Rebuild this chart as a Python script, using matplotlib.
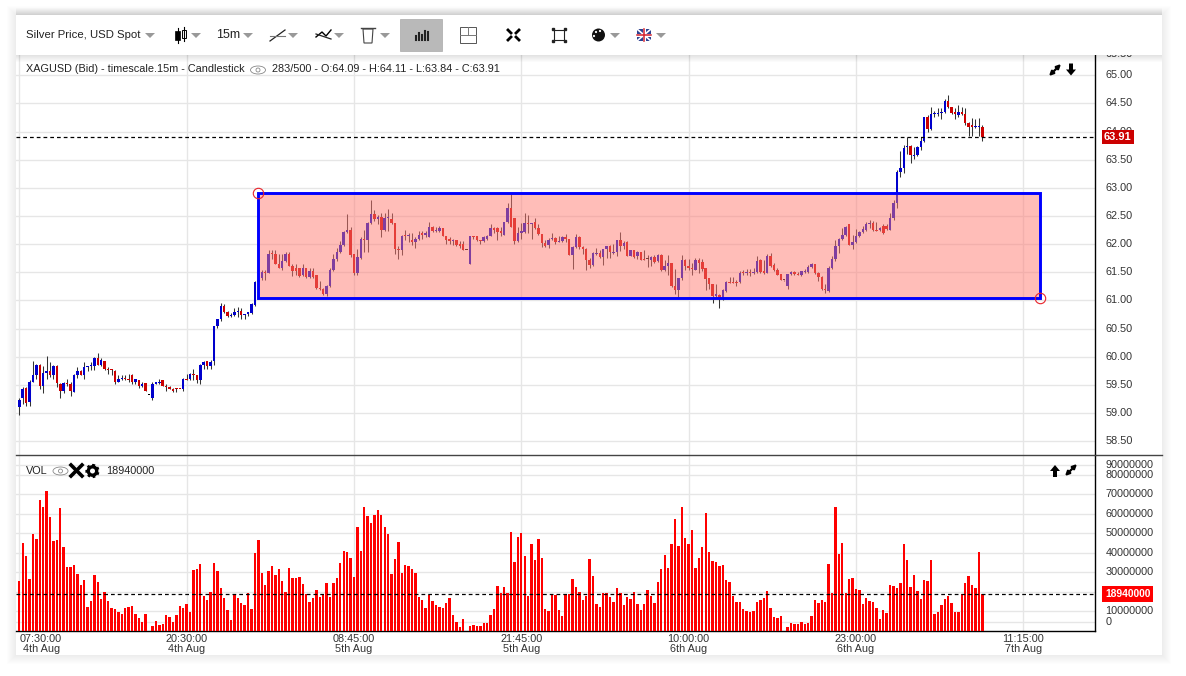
import numpy as np
import matplotlib
matplotlib.use('Agg')
import matplotlib.pyplot as plt
from matplotlib.patches import Rectangle, Ellipse, Circle, Polygon
from matplotlib.transforms import ScaledTranslation

plt.rcParams['font.family'] = ['Liberation Sans', 'DejaVu Sans']

# candles (15m bars)
opens = [
    59.10,59.26,59.45,59.20,59.56,59.67,59.86,59.49,59.72,59.74,
    59.68,59.83,59.52,59.40,59.52,59.52,59.38,59.67,59.74,59.68,
    59.81,59.83,59.84,59.97,59.86,59.93,59.79,59.77,59.74,59.56,
    59.60,59.61,59.61,59.68,59.56,59.58,59.49,59.54,59.33,59.27,
    59.52,59.54,59.58,59.49,59.47,59.43,59.43,59.43,59.42,59.60,
    59.60,59.68,59.68,59.58,59.86,59.92,59.84,59.92,60.54,60.67,
    60.90,60.79,60.72,60.74,60.79,60.81,60.74,60.76,60.77,60.92,
    61.32,61.40,61.51,61.49,61.83,61.82,61.65,61.58,61.71,61.83,
    61.62,61.57,61.57,61.46,61.58,61.42,61.53,61.46,61.23,61.21,
    61.12,61.26,61.55,61.73,61.87,61.98,62.21,62.26,61.83,61.48,
    61.76,62.10,62.07,62.37,62.53,62.44,62.49,62.26,62.46,62.44,
    62.37,61.92,61.89,62.17,62.15,62.08,62.03,62.10,62.19,62.17,
    62.12,62.31,62.23,62.23,62.28,62.14,62.10,62.05,62.08,62.01,
    62.01,61.90,61.64,62.14,62.14,62.07,62.05,62.10,62.15,62.28,
    62.28,62.23,62.17,62.39,62.65,62.46,62.05,62.19,62.22,62.38,
    62.36,62.40,62.29,62.18,62.02,61.99,62.10,62.11,62.04,62.06,
    62.13,62.10,61.81,61.95,62.13,61.95,61.92,61.72,61.63,61.83,
    61.85,61.77,61.92,61.97,61.85,61.86,62.08,61.97,62.04,61.79,
    61.90,61.79,61.86,61.74,61.74,61.72,61.77,61.70,61.81,61.54,
    61.61,61.67,61.26,61.18,61.40,61.72,61.61,61.58,61.54,61.72,
    61.68,61.58,61.40,61.29,61.08,61.10,61.02,61.17,61.33,61.33,
    61.33,61.33,61.49,61.49,61.51,61.49,61.51,61.72,61.52,61.49,
    61.79,61.63,61.54,61.47,61.36,61.26,61.47,61.51,61.47,61.45,
    61.51,61.51,61.60,61.65,61.49,61.42,61.20,61.17,61.58,61.74,
    61.97,62.10,62.17,62.35,61.99,62.04,62.15,62.22,62.26,62.36,
    62.38,62.26,62.26,62.33,62.33,62.26,62.47,62.74,63.29,63.35,
    63.72,63.74,63.56,63.58,63.72,63.84,64.26,64.04,64.31,64.32,
    64.33,64.34,64.54,64.43,64.34,64.29,64.34,64.31,64.15,64.11,
    64.08,64.08,64.09]
closes = [
    59.24,59.43,59.18,59.56,59.67,59.86,59.49,59.72,59.74,59.67,
    59.83,59.54,59.40,59.54,59.51,59.40,59.67,59.74,59.68,59.81,
    59.84,59.84,59.97,59.86,59.95,59.79,59.76,59.76,59.56,59.61,
    59.61,59.60,59.58,59.56,59.60,59.49,59.52,59.40,59.33,59.52,
    59.56,59.56,59.49,59.47,59.43,59.40,59.42,59.42,59.60,59.58,
    59.70,59.67,59.58,59.86,59.90,59.84,59.90,60.54,60.68,60.90,
    60.79,60.72,60.74,60.79,60.81,60.74,60.76,60.79,60.93,61.32,
    61.37,61.51,61.49,61.83,61.82,61.65,61.58,61.71,61.83,61.62,
    61.53,61.53,61.44,61.58,61.42,61.53,61.42,61.23,61.21,61.12,
    61.26,61.55,61.73,61.87,61.98,62.21,62.26,61.80,61.48,61.78,
    62.10,62.07,62.37,62.53,62.44,62.49,62.26,62.46,62.48,62.37,
    61.92,61.89,62.15,62.15,62.17,62.03,62.10,62.17,62.17,62.19,
    62.31,62.23,62.26,62.28,62.14,62.08,62.05,62.06,61.98,61.96,
    61.90,61.90,62.14,62.12,62.07,62.05,62.12,62.15,62.28,62.26,
    62.21,62.19,62.40,62.65,62.31,62.05,62.19,62.23,62.38,62.36,
    62.38,62.29,62.18,62.02,61.97,62.08,62.11,62.04,62.06,62.13,
    62.10,61.81,61.95,62.13,61.95,61.92,61.72,61.63,61.85,61.85,
    61.77,61.92,61.97,61.86,61.86,62.08,61.97,62.02,61.79,61.90,
    61.77,61.86,61.72,61.72,61.74,61.77,61.68,61.81,61.54,61.61,
    61.67,61.26,61.18,61.40,61.72,61.61,61.58,61.56,61.72,61.67,
    61.56,61.38,61.29,61.08,61.11,61.04,61.18,61.33,61.31,61.31,
    61.31,61.49,61.48,61.51,61.49,61.51,61.70,61.51,61.49,61.79,
    61.61,61.54,61.45,61.36,61.36,61.47,61.51,61.47,61.46,61.52,
    61.52,61.60,61.65,61.49,61.42,61.20,61.18,61.58,61.74,61.97,
    62.10,62.17,62.31,61.99,62.04,62.15,62.22,62.27,62.36,62.38,
    62.26,62.24,62.29,62.20,62.27,62.47,62.74,63.29,63.35,63.70,
    63.74,63.58,63.58,63.72,63.84,64.26,64.04,64.31,64.33,64.33,
    64.34,64.54,64.43,64.33,64.31,64.34,64.31,64.15,64.09,64.08,
    64.09,64.09,63.91]
highs = [
    59.27,59.47,59.47,59.58,59.93,59.88,59.88,59.83,60.01,59.90,
    59.86,59.86,59.54,59.56,59.61,59.56,59.70,59.81,59.77,59.90,
    59.84,59.90,59.99,60.06,59.97,59.93,59.81,59.79,59.76,59.68,
    59.68,59.68,59.70,59.70,59.61,59.58,59.56,59.54,59.33,59.56,
    59.56,59.60,59.58,59.51,59.49,59.45,59.45,59.43,59.63,59.70,
    59.72,59.79,59.68,59.88,59.92,59.92,59.95,60.54,60.68,60.95,
    60.93,60.81,60.77,60.86,60.88,60.86,60.76,60.79,60.95,61.34,
    61.40,61.55,61.54,61.89,61.89,61.90,61.83,61.83,61.87,61.87,
    61.64,61.65,61.58,61.64,61.58,61.58,61.58,61.46,61.35,61.23,
    61.28,61.57,61.82,61.94,62.05,62.24,62.53,62.31,61.83,61.92,
    62.12,62.26,62.39,62.78,62.60,62.51,62.55,62.55,62.62,62.55,
    62.37,61.96,62.17,62.26,62.19,62.19,62.12,62.24,62.24,62.24,
    62.40,62.33,62.31,62.33,62.28,62.15,62.12,62.10,62.08,62.06,
    62.05,61.90,62.14,62.15,62.15,62.07,62.14,62.17,62.35,62.30,
    62.30,62.31,62.40,62.74,62.90,62.46,62.31,62.37,62.56,62.52,
    62.38,62.47,62.36,62.18,62.08,62.11,62.20,62.13,62.15,62.15,
    62.18,62.10,61.97,62.18,62.15,61.97,61.93,61.76,61.86,61.93,
    61.90,61.92,61.97,61.99,62.01,62.08,62.22,62.06,62.06,61.90,
    61.90,61.88,61.86,61.90,61.81,61.79,61.81,61.83,61.83,61.72,
    61.81,61.67,61.56,61.40,61.81,61.74,61.74,61.67,61.76,61.76,
    61.74,61.58,61.40,61.29,61.29,61.11,61.20,61.35,61.42,61.42,
    61.36,61.52,61.54,61.56,61.56,61.58,61.79,61.74,61.72,61.83,
    61.85,61.67,61.58,61.47,61.36,61.47,61.52,61.52,61.51,61.52,
    61.56,61.63,61.67,61.65,61.51,61.43,61.29,61.61,61.79,62.08,
    62.11,62.29,62.33,62.35,62.17,62.27,62.24,62.33,62.40,62.43,
    62.42,62.40,62.31,62.36,62.35,62.56,62.79,63.31,63.65,63.77,
    63.90,63.76,63.72,63.74,63.90,64.26,64.29,64.43,64.36,64.42,
    64.42,64.58,64.65,64.43,64.42,64.47,64.43,64.42,64.17,64.24,
    64.22,64.24,64.11]
lows = [
    58.97,59.17,59.13,59.13,59.56,59.60,59.42,59.35,59.61,59.65,
    59.60,59.47,59.27,59.36,59.49,59.31,59.38,59.63,59.67,59.61,
    59.74,59.77,59.77,59.86,59.84,59.77,59.70,59.68,59.52,59.56,
    59.58,59.58,59.56,59.52,59.52,59.45,59.47,59.40,59.33,59.24,
    59.51,59.51,59.49,59.40,59.42,59.38,59.38,59.42,59.40,59.58,
    59.58,59.58,59.54,59.52,59.79,59.79,59.79,59.85,60.51,60.63,
    60.77,60.70,60.70,60.72,60.70,60.68,60.67,60.72,60.76,60.90,
    61.30,61.36,61.37,61.48,61.73,61.64,61.57,61.55,61.69,61.62,
    61.44,61.46,61.42,61.44,61.40,61.40,61.40,61.21,61.19,61.10,
    61.08,61.24,61.53,61.71,61.85,61.96,62.19,61.78,61.46,61.46,
    61.73,61.87,61.87,62.35,62.42,62.35,62.12,62.24,62.24,62.35,
    61.82,61.73,61.80,62.08,62.03,61.99,61.94,62.08,62.10,62.12,
    62.12,62.21,62.21,62.21,62.14,62.01,62.01,61.99,61.96,61.94,
    61.89,61.89,61.64,62.10,62.05,62.01,62.03,62.08,62.14,62.19,
    62.07,62.15,62.17,62.37,62.31,62.01,62.03,62.10,62.19,62.20,
    62.10,62.27,62.17,61.95,61.95,61.93,62.08,62.01,62.04,62.04,
    62.04,61.81,61.56,61.93,61.92,61.83,61.54,61.58,61.61,61.81,
    61.76,61.63,61.76,61.76,61.83,61.79,61.88,61.92,61.79,61.79,
    61.76,61.74,61.72,61.72,61.60,61.61,61.67,61.68,61.52,61.52,
    61.45,61.24,61.11,61.04,61.36,61.54,61.54,61.45,61.54,61.49,
    61.52,61.18,61.20,60.95,61.04,60.86,61.01,61.15,61.31,61.31,
    61.26,61.31,61.45,61.45,61.43,61.47,61.49,61.49,61.47,61.49,
    61.60,61.52,61.45,61.36,61.35,61.20,61.45,61.45,61.45,61.43,
    61.49,61.49,61.58,61.47,61.35,61.18,61.13,61.15,61.56,61.70,
    61.85,62.08,62.15,61.99,61.92,62.02,62.13,62.20,62.24,62.29,
    62.24,62.24,62.24,62.18,62.26,62.26,62.43,62.65,63.20,63.27,
    63.61,63.45,63.52,63.56,63.67,63.81,63.99,64.02,64.26,64.27,
    64.22,64.33,64.42,64.31,64.22,64.26,64.29,64.11,63.92,63.92,
    64.06,63.92,63.84]

# volume in millions
volume = [
    25.6,45.0,38.4,26.6,49.6,47.1,67.0,63.4,71.6,58.3,
    46.0,46.5,62.9,43.0,32.7,32.7,33.8,29.2,23.5,26.1,
    12.3,15.3,28.6,25.1,16.4,19.9,15.3,11.8,11.3,9.7,
    8.7,11.8,12.3,12.8,8.7,6.6,4.6,8.7,0,2.6,
    5.1,3.1,3.6,8.2,7.2,4.6,8.2,12.8,11.8,13.8,
    9.7,31.2,31.7,34.3,17.9,15.9,19.9,34.8,30.7,22.0,
    16.9,10.7,5.6,18.8,16.9,14.3,13.3,19.4,11.3,39.9,
    46.5,29.7,23.5,30.7,33.2,28.6,31.7,25.6,19.9,32.2,
    27.1,27.1,27.6,24.0,18.8,14.8,16.9,21.0,17.4,18.8,
    24.6,17.4,24.6,27.1,34.8,40.9,40.4,37.3,27.6,53.2,
    40.9,63.4,58.8,55.2,59.3,61.9,59.3,53.2,49.6,29.2,
    36.8,45.5,
    29.7,33.8,33.2,31.7,29.7,17.4,15.9,11.8,18.4,15.3,
    13.3,12.3,11.8,14.3,16.9,8.2,4.6,2.0,6.1,0,
    2.6,3.1,2.6,2.6,4.1,4.1,8.2,11.3,23.0,19.4,
    22.5,19.4,50.6,35.3,48.1,50.1,38.4,17.9,44.5,36.3,
    47.1,37.3,11.3,10.2,18.4,18.4,10.7,7.7,18.9,18.9,
    26.6,22.5,19.9,15.9,17.9,36.8,28.1,13.8,12.3,19.4,
    19.4,17.4,14.8,22.0,19.4,13.3,17.4,16.4,19.9,13.8,
    10.7,13.8,21.0,17.9,14.3,25.1,31.7,38.9,32.2,44.5,
    57.3,43.5,63.4,47.6,44.5,51.7,32.2,37.3,43.0,60.4,
    40.4,35.8,35.3,33.2,33.8,26.1,25.1,17.9,14.8,14.8,
    11.3,10.2,9.7,10.2,14.8,15.9,16.9,20.5,11.8,7.2,
    6.6,7.7,0,2.0,4.1,3.6,3.6,
    4.6,3.6,4.1,7.7,15.9,14.3,15.9,14.8,34.3,19.4,
    63.4,39.4,45.0,19.4,26.6,27.1,21.5,21.0,13.8,16.9,
    15.3,14.8,11.8,6.1,10.7,9.2,23.5,23.0,22.0,24.6,
    44.5,36.3,22.5,28.6,20.5,16.4,26.1,25.6,36.3,8.7,
    9.7,13.3,16.4,17.9,14.3,9.7,9.7,18.9,24.6,28.1,
    23.5,22.0,40.4,18.94]

price_ticks = [58.5,59.0,59.5,60.0,60.5,61.0,61.5,62.0,62.5,63.0,63.5,64.0,64.5,65.0]
vol_ticks = [10,20,30,40,50,60,70,80]
time_ticks = [0,49,98,147,196,245,294]
time_labels = ['07:30:00','20:30:00','08:45:00','21:45:00','10:00:00','23:00:00','11:15:00']
date_labels = ['4th Aug','4th Aug','5th Aug','5th Aug','6th Aug','6th Aug','7th Aug']
last_close = 63.91
last_volume = 18.94
zone_bars = (70, 299)
zone_prices = (61.04, 62.91)

W, H = 1186, 676
GRID = '#e6e6e6'
TEXT = '#333333'


def px_axes(left, top, right, bottom):
    return fig.add_axes([left / W, (H - bottom) / H, (right - left) / W, (bottom - top) / H])


fig = plt.figure(figsize=(W / 100, H / 100), dpi=100, facecolor='white')
label_up = ScaledTranslation(0, 1 / 100, fig.dpi_scale_trans)

# page card + soft shadow
bg = fig.add_axes([0, 0, 1, 1], zorder=0)
bg.set_xlim(0, W)
bg.set_ylim(H, 0)
bg.axis('off')
for k in range(9, 0, -1):
    bg.add_patch(Rectangle((16 - k, 15 - k), 1146 + 2 * k, 640 + 2 * k, fc='k', ec='none', alpha=0.009))
bg.add_patch(Rectangle((16, 15), 1146, 640, fc='white', ec='none'))

# price panel
ax = px_axes(16, 55, 1095, 455)
ax.set_zorder(1)
ax.patch.set_visible(False)
ax.set_xlim(-0.966, 315)
ax.set_ylim(58.256, 65.36)
xs = np.arange(len(opens))
o = np.array(opens)
c = np.array(closes)
colors = ['#000000' if a == b else ('#0000cc' if b > a else '#cc0000') for a, b in zip(o, c)]
ax.vlines(xs, lows, highs, color='#333333', lw=0.75, zorder=3)
ax.bar(xs, np.maximum(np.abs(c - o), 0.018), bottom=np.minimum(o, c), width=0.72, color=colors, zorder=3)

# drawn rectangle on top of the candles
zw = zone_bars[1] - zone_bars[0]
zh = zone_prices[1] - zone_prices[0]
ax.add_patch(Rectangle((zone_bars[0], zone_prices[0]), zw, zh, fc='#ff7c73', ec='none', alpha=0.5, zorder=4))
ax.add_patch(Rectangle((zone_bars[0], zone_prices[0]), zw, zh, fc='none', ec='#0000ff', lw=2.1, zorder=5))
ax.plot([zone_bars[0], zone_bars[1]], [zone_prices[1], zone_prices[0]], ls='none', marker='o', ms=7.5,
        mfc='none', mec='#e8222a', mew=0.8, zorder=6, clip_on=False)

ax.axhline(last_close, color='k', lw=0.9, ls=(0, (3, 2.4)), zorder=6)
ax.set_xticks(time_ticks)
ax.set_yticks(price_ticks)
ax.set_yticklabels([f'{p:.2f}' for p in price_ticks])
ax.yaxis.tick_right()
ax.tick_params(axis='y', length=0, pad=7.5, labelsize=7.8, labelcolor=TEXT)
ax.tick_params(axis='x', length=0, labelbottom=False)
ax.grid(True, color=GRID, lw=1.0)
ax.set_axisbelow(True)
for lab in ax.get_yticklabels():
    lab.set_transform(lab.get_transform() + label_up)
for side in ['top', 'left', 'bottom']:
    ax.spines[side].set_visible(False)
ax.spines['right'].set_linewidth(1.0)
ax.text(1.0097, 65.38, '65.50', transform=ax.get_yaxis_transform(), fontsize=7.8, color=TEXT, va='center',
        ha='left', clip_on=False)
ax.text(1.0084, last_close, f'{last_close:.2f}', transform=ax.get_yaxis_transform(), fontsize=8, color='white',
        fontweight='bold', va='center', ha='left', zorder=10, clip_on=False,
        bbox=dict(boxstyle='square,pad=0.18', fc='#cc0000', ec='none'))

# volume panel
av = px_axes(16, 455, 1095, 631)
av.set_zorder(1)
av.patch.set_visible(False)
av.set_xlim(-0.966, 315)
av.set_ylim(0, 90)
av.bar(xs, volume, width=0.7, color='#ff0000', zorder=3)
av.axhline(last_volume, color='k', lw=0.9, ls=(0, (3, 2.4)), zorder=6)
# the outermost labels of this axis sit pushed inward from 0 and 90M,
# the 20M label is covered by the red box so it gets no text
av.set_yticks([4.6] + vol_ticks + [84.9])
av.set_yticklabels(['0'] + ['' if v == 20 else f'{v * 1000000}' for v in vol_ticks] + ['90000000'])
av.yaxis.tick_right()
av.tick_params(axis='y', length=0, pad=7.5, labelsize=7.8, labelcolor=TEXT)
av.set_xticks(time_ticks)
av.tick_params(axis='x', length=0, labelbottom=False)
av.grid(True, color=GRID, lw=1.0)
av.set_axisbelow(True)
for lab in av.get_yticklabels():
    lab.set_transform(lab.get_transform() + label_up)
for side in ['top', 'left']:
    av.spines[side].set_visible(False)
av.spines['right'].set_linewidth(1.0)
av.spines['bottom'].set_linewidth(1.0)
for x, t, d in zip(time_ticks, time_labels, date_labels):
    lx = 6.4 if x == 0 else x
    av.annotate(f'{t}\n{d}', xy=(lx, 0), xycoords=av.get_xaxis_transform(), xytext=(0, -2.2),
                textcoords='offset points', ha='center', va='top', fontsize=7.8, color=TEXT, linespacing=0.95)
av.text(1.0093, last_volume, '18940000', transform=av.get_yaxis_transform(), fontsize=7.4, color='white',
        fontweight='bold', va='center', ha='left', zorder=10, clip_on=False,
        bbox=dict(boxstyle='square,pad=0.27', fc='#ff0000', ec='none'))

# toolbar, header strings and the small icons go on a pixel overlay
ui = fig.add_axes([0, 0, 1, 1], zorder=10)
ui.set_xlim(0, W)
ui.set_ylim(H, 0)
ui.axis('off')
ui.plot([16, 1162], [455.2, 455.2], color='#444444', lw=1.0)
for k in range(7, 0, -1):
    ui.add_patch(Rectangle((16, 15 - k), 1146, 40 + 2 * k, fc='k', ec='none', alpha=0.015))
ui.add_patch(Rectangle((16, 15), 1146, 40, fc='white', ec='none'))
ui.add_patch(Rectangle((400, 19), 42, 32, fc='#b9b9b9', ec='#aaaaaa', lw=0.5))


def tri(x):
    ui.add_patch(Polygon([(x, 33), (x + 10, 33), (x + 5, 38)], fc='#999999', ec='none'))


for x in [145, 191, 243, 288, 334, 380, 610, 656]:
    tri(x)
ui.text(26, 35, 'Silver Price, USD Spot', fontsize=8.2, color='#222222', va='center', ha='left')
ui.text(216, 35.5, '15m', fontsize=9, color='#222222', va='center', ha='left')
# candle icon
ui.plot([177.5, 177.5], [28, 43], color='k', lw=0.8)
ui.plot([184, 184], [27, 41], color='k', lw=0.8)
ui.add_patch(Rectangle((175, 31), 5, 9, fc='k', ec='k', lw=0.5))
ui.add_patch(Rectangle((182, 30), 4, 8, fc='white', ec='k', lw=0.7))
# line tool icon
ui.plot([270, 285], [41, 30], color='#222222', lw=0.9)
ui.plot([270, 285], [36, 36], color='#777777', lw=0.8)
# zigzag icon
ui.plot([316, 322, 326, 331], [37, 32, 36, 30], color='k', lw=1.0)
ui.plot([316, 331], [34, 39], color='#222222', lw=0.9)
# bin
ui.add_patch(Polygon([(363, 29), (373, 29), (372, 43), (364, 43)], fc='white', ec='#444444', lw=0.8))
ui.plot([361, 375], [28, 28], color='#444444', lw=1.0)
# bars icon on the active button
for x, h in [(415.5, 4), (418.5, 7), (421.5, 5), (424.5, 9), (427.5, 8)]:
    ui.plot([x, x], [40, 40 - h], color='#222222', lw=1.5)
# crosshair box
ui.add_patch(Rectangle((460, 27), 16, 16, fc='white', ec='#555555', lw=0.7))
ui.plot([460, 476], [35, 35], color='#777777', lw=0.7)
ui.plot([468, 468], [27, 35], color='#777777', lw=0.7)
# shrink icon
for a, b in [(508, 30), (519, 30), (508, 40), (519, 40)]:
    ui.plot([a, a + (3 if a < 510 else -3)], [b, b + (3 if b < 35 else -3)], color='k', lw=2)
# fullscreen icon
ui.add_patch(Rectangle((554, 30), 10, 10, fc='white', ec='#222222', lw=0.8))
for a, b in [(553, 29), (565, 29), (553, 41), (565, 41)]:
    ui.plot(a, b, marker='s', ms=1.8, color='#222222')
# palette
ui.add_patch(Circle((598.5, 35), 6.5, fc='#111111', ec='none'))
for a, b in [(596, 32), (600, 31), (594, 36)]:
    ui.add_patch(Circle((a, b), 1.1, fc='white', ec='none'))
# flag
ui.add_patch(Rectangle((637, 29), 14, 12, fc='#2b3f8f', ec='none'))
ui.plot([637, 651], [29, 41], color='white', lw=1.2)
ui.plot([637, 651], [41, 29], color='white', lw=1.2)
ui.plot([644, 644], [29, 41], color='white', lw=2.2)
ui.plot([637, 651], [35, 35], color='white', lw=2.2)
ui.plot([644, 644], [29, 41], color='#d3202c', lw=1.1)
ui.plot([637, 651], [35, 35], color='#d3202c', lw=1.1)

# panel headers
ui.text(26, 69.5, 'XAGUSD (Bid) - timescale.15m - Candlestick', fontsize=7.87, color='#222222', va='center', ha='left')
ui.text(272, 69.5, '283/500 - O:64.09 - H:64.11 - L:63.84 - C:63.91', fontsize=7.87, color='#222222', va='center', ha='left')
ui.text(26, 470.5, 'VOL', fontsize=7.8, color='#222222', va='center', ha='left')
ui.text(106, 470.5, '18940000', fontsize=7.8, color='#222222', va='center', ha='left')
for x, y in [(258, 70), (60.5, 471)]:
    ui.add_patch(Ellipse((x, y), 15, 8, fc='white', ec='#888888', lw=0.6))
    ui.add_patch(Circle((x, y), 2, fc='white', ec='#888888', lw=0.6))
ui.plot([71, 82], [465, 476], color='k', lw=2.6)
ui.plot([71, 82], [476, 465], color='k', lw=2.6)
ui.add_patch(Circle((92.5, 471), 4.2, fc='white', ec='k', lw=2.4))
ui.add_patch(Circle((92.5, 471), 6, fc='none', ec='k', lw=1.6, ls=(0, (1.2, 1.2))))


def diag(x, y):
    ui.annotate('', xy=(x + 6, y - 6), xytext=(x - 6, y + 6),
                arrowprops=dict(arrowstyle='<|-|>', color='k', lw=1.6, mutation_scale=6, shrinkA=0, shrinkB=0))


def vert(x, y, d):
    ui.add_patch(Polygon([(x - 2, y - 6 * d), (x + 2, y - 6 * d), (x + 2, y), (x + 5, y), (x, y + 6 * d),
                          (x - 5, y), (x - 2, y)], fc='k', ec='none'))


diag(1055, 70)
vert(1071, 69.5, 1)
vert(1055, 471, -1)
diag(1071, 470)

plt.savefig('out.png', dpi=100, facecolor='white')
plt.close()
